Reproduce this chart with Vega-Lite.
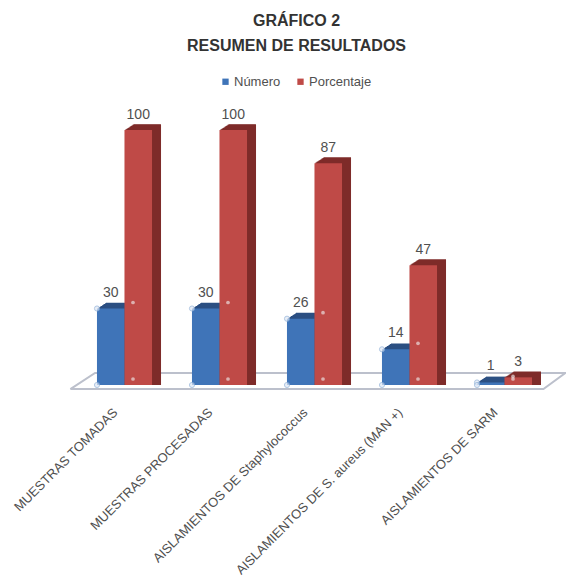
{
"$schema":"https://vega.github.io/schema/vega-lite/v6.json",
"width":475,"height":255,
"autosize":{"type":"none"},
"padding":{"left":77,"top":130,"right":14,"bottom":198},
"background":"white",
"title":{"text":["GRÁFICO 2","RESUMEN DE RESULTADOS"],"font":"Liberation Sans","fontSize":16,"fontWeight":"bold","color":"#333333","anchor":"middle","dx":-18,"offset":21,"lineHeight":25},
"config":{"view":{"stroke":null}},
"datasets":{
"resultados":[
{"categoria":"MUESTRAS TOMADAS","serie":"Número","valor":30},
{"categoria":"MUESTRAS TOMADAS","serie":"Porcentaje","valor":100},
{"categoria":"MUESTRAS PROCESADAS","serie":"Número","valor":30},
{"categoria":"MUESTRAS PROCESADAS","serie":"Porcentaje","valor":100},
{"categoria":"AISLAMIENTOS DE Staphylococcus","serie":"Número","valor":26},
{"categoria":"AISLAMIENTOS DE Staphylococcus","serie":"Porcentaje","valor":87},
{"categoria":"AISLAMIENTOS DE S. aureus (MAN +)","serie":"Número","valor":14},
{"categoria":"AISLAMIENTOS DE S. aureus (MAN +)","serie":"Porcentaje","valor":47},
{"categoria":"AISLAMIENTOS DE SARM","serie":"Número","valor":1},
{"categoria":"AISLAMIENTOS DE SARM","serie":"Porcentaje","valor":3}
],
"suelo":[
{"paso":1,"px":-0.07,"py":-1.6},
{"paso":2,"px":0.19,"py":4.7},
{"paso":3,"px":5.14,"py":4.7},
{"paso":4,"px":4.91,"py":-1.6},
{"paso":5,"px":-0.07,"py":-1.6}
]
},
"resolve":{"scale":{"x":"independent"}},
"layer":[
{
"data":{"name":"suelo"},
"mark":{"type":"line","stroke":"#bcc0cc","strokeWidth":2,"clip":false},
"encoding":{
"x":{"field":"px","type":"quantitative","scale":{"domain":[0,5],"nice":false,"zero":false},"axis":null},
"y":{"field":"py","type":"quantitative","scale":{"domain":[0,100],"nice":false},"axis":null},
"order":{"field":"paso"}
}
},
{
"data":{"name":"resultados"},
"encoding":{
"x":{"field":"categoria","type":"nominal","sort":null,"scale":{"paddingInner":0.42,"paddingOuter":0.21},
"axis":{"title":null,"domain":false,"ticks":false,"labelAngle":-45,"labelAlign":"right","labelBaseline":"middle","labelPadding":25,"labelOffset":-9,"labelFont":"Liberation Sans","labelFontSize":13,"labelColor":"#505050","labelLimit":320}},
"y":{"field":"valor","type":"quantitative","scale":{"domain":[0,100],"nice":false},"axis":null},
"y2":{"datum":0}
},
"layer":[
{
"transform":[{"filter":"datum.serie==='Número'"}],
"layer":[
{"mark":{"type":"bar","color":"#2b4f82","width":{"band":0.5},"xOffset":-12.75,"yOffset":-0.65}},
{"mark":{"type":"bar","color":"#2b4f82","width":{"band":0.5},"xOffset":-11.75,"yOffset":-1.3}},
{"mark":{"type":"bar","color":"#2b4f82","width":{"band":0.5},"xOffset":-10.75,"yOffset":-1.95}},
{"mark":{"type":"bar","color":"#2b4f82","width":{"band":0.5},"xOffset":-9.75,"yOffset":-2.6}},
{"mark":{"type":"bar","color":"#2b4f82","width":{"band":0.5},"xOffset":-8.75,"yOffset":-3.25}},
{"mark":{"type":"bar","color":"#2b4f82","width":{"band":0.5},"xOffset":-7.75,"yOffset":-3.9}},
{"mark":{"type":"bar","color":"#2b4f82","width":{"band":0.5},"xOffset":-6.75,"yOffset":-4.55}},
{"mark":{"type":"bar","color":"#2b4f82","width":{"band":0.5},"xOffset":-5.75,"yOffset":-5.2}},
{"mark":{"type":"bar","color":"#2b4f82","width":{"band":0.5},"xOffset":-4.75,"yOffset":-5.85}}
]
},
{
"transform":[{"filter":"datum.serie==='Porcentaje'"}],
"layer":[
{"mark":{"type":"bar","color":"#7e2b29","width":{"band":0.5},"xOffset":14.75,"yOffset":-0.65}},
{"mark":{"type":"bar","color":"#7e2b29","width":{"band":0.5},"xOffset":15.75,"yOffset":-1.3}},
{"mark":{"type":"bar","color":"#7e2b29","width":{"band":0.5},"xOffset":16.75,"yOffset":-1.95}},
{"mark":{"type":"bar","color":"#7e2b29","width":{"band":0.5},"xOffset":17.75,"yOffset":-2.6}},
{"mark":{"type":"bar","color":"#7e2b29","width":{"band":0.5},"xOffset":18.75,"yOffset":-3.25}},
{"mark":{"type":"bar","color":"#7e2b29","width":{"band":0.5},"xOffset":19.75,"yOffset":-3.9}},
{"mark":{"type":"bar","color":"#7e2b29","width":{"band":0.5},"xOffset":20.75,"yOffset":-4.55}},
{"mark":{"type":"bar","color":"#7e2b29","width":{"band":0.5},"xOffset":21.75,"yOffset":-5.2}},
{"mark":{"type":"bar","color":"#7e2b29","width":{"band":0.5},"xOffset":22.75,"yOffset":-5.85}}
]
},
{
"transform":[{"filter":"datum.serie==='Número'"}],
"mark":{"type":"bar","width":{"band":0.5},"xOffset":-13.75},
"encoding":{"color":{"field":"serie","type":"nominal","scale":{"domain":["Número","Porcentaje"],"range":["#3f74b8","#bf4a47"]},
"legend":{"title":null,"orient":"none","legendX":142,"legendY":-55,"direction":"horizontal","columns":2,"columnPadding":13,"labelOffset":2,"symbolType":"square","symbolSize":40,"symbolStrokeWidth":0,"labelFont":"Liberation Sans","labelFontSize":13,"labelColor":"#505050"}}}
},
{
"transform":[{"filter":"datum.serie==='Porcentaje'"}],
"mark":{"type":"bar","width":{"band":0.5},"xOffset":13.75},
"encoding":{"color":{"field":"serie","type":"nominal","legend":null}}
},
{"transform":[{"filter":"datum.serie==='Número'"}],"mark":{"type":"point","shape":"circle","size":26,"filled":true,"fill":"#dfe8f5","stroke":"#8fb0d8","strokeWidth":1,"xOffset":-27.5},"encoding":{"y2":null}},
{"transform":[{"filter":"datum.serie==='Número'"}],"mark":{"type":"point","shape":"circle","size":26,"filled":true,"fill":"#dfe8f5","stroke":"#8fb0d8","strokeWidth":1,"xOffset":-27.5},"encoding":{"y":{"datum":0},"y2":null}},
{"transform":[{"filter":"datum.serie==='Número'"}],"mark":{"type":"point","shape":"circle","size":14,"filled":true,"fill":"#e9dcdc","xOffset":8.5,"yOffset":-6},"encoding":{"y2":null}},
{"transform":[{"filter":"datum.serie==='Número'"}],"mark":{"type":"point","shape":"circle","size":14,"filled":true,"fill":"#e9dcdc","xOffset":8.5,"yOffset":-6},"encoding":{"y":{"datum":0},"y2":null}},
{"transform":[{"filter":"datum.serie==='Número'"}],"mark":{"type":"text","baseline":"bottom","align":"center","xOffset":-13.75,"yOffset":-9,"font":"Liberation Sans","fontSize":14,"color":"#505050"},"encoding":{"y2":null,"text":{"field":"valor","type":"quantitative"}}},
{"transform":[{"filter":"datum.serie==='Porcentaje'"}],"mark":{"type":"text","baseline":"bottom","align":"center","xOffset":13.75,"yOffset":-8,"font":"Liberation Sans","fontSize":14,"color":"#505050"},"encoding":{"y2":null,"text":{"field":"valor","type":"quantitative"}}}
]
}
]
}
